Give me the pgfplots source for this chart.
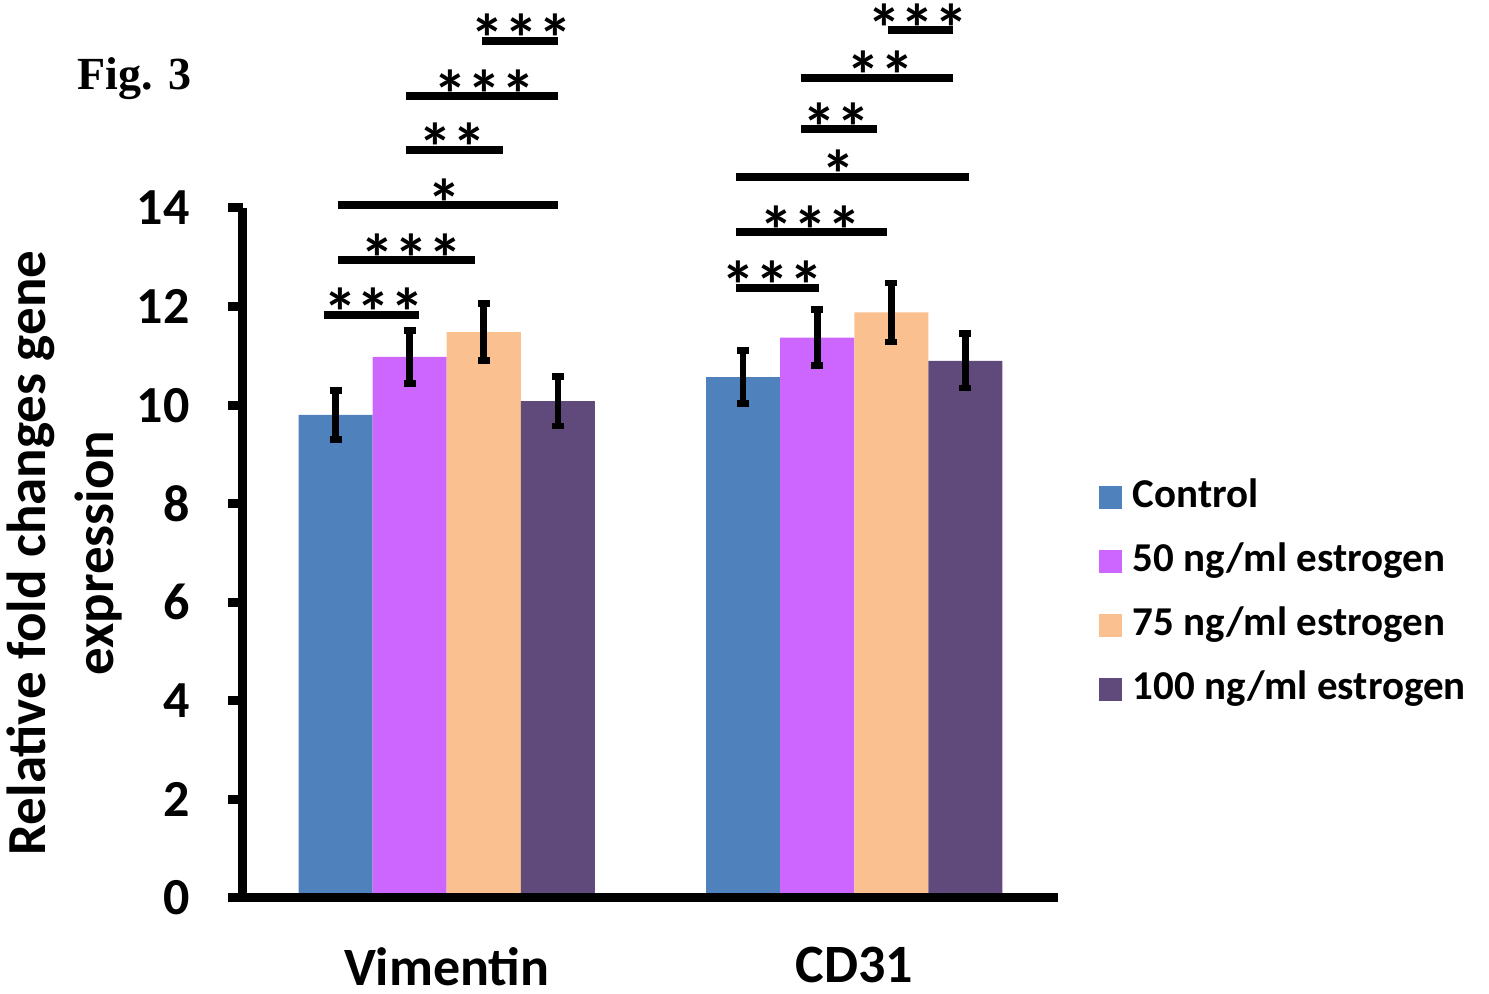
\documentclass[border=0pt]{standalone}
\usepackage{pgfplots}
\pgfplotsset{compat=1.18}
\usepackage{fontspec}
\setmainfont{Carlito}
\newfontfamily\figfont{Liberation Serif}
\definecolor{cctrl}{RGB}{79,129,189}
\definecolor{cfifty}{RGB}{204,102,255}
\definecolor{cseventy}{RGB}{250,192,143}
\definecolor{chundred}{RGB}{96,74,123}
\newcommand{\sig}[5]{%
  \draw[line width=4pt, black] (axis cs:#1,#3) -- (axis cs:#2,#3);
  \node[anchor=base, inner sep=0pt, yshift=-11pt, font=\fontsize{34}{34}\selectfont\bfseries] at (axis cs:#4,#3) {#5};}
\begin{document}
\begin{tikzpicture}
\begin{axis}[
  scale only axis, width=407.5pt, height=345pt,
  xmin=-0.5, xmax=1.5, ymin=0, ymax=14,
  clip=false, axis on top,
  axis x line*=bottom, axis y line*=left,
  axis line style={line width=4.5pt, black},
  ytick={0,2,...,14},
  xtick={0,1}, xticklabels={Vimentin,CD31},
  tick align=outside, major tick length=7.5pt,
  ytick style={line width=4.5pt, black},
  xtick style={draw=none},
  /pgf/number format/assume math mode=true,
  yticklabel style={font=\fontsize{26}{26}\selectfont\bfseries, anchor=east, inner sep=0pt, xshift=-19pt},
  xticklabel style={font=\fontsize{27}{27}\selectfont\bfseries, anchor=north, inner sep=0pt, yshift=-17pt},
  ylabel={Relative fold changes gene\\expression},
  ylabel style={font=\fontsize{27.5}{34}\selectfont\bfseries, align=center, at={(axis description cs:-0.1472,0.5)}, anchor=south, inner sep=0pt},
  ybar, bar width=0.1818,
  error bars/y dir=both, error bars/y explicit,
  error bars/error bar style={line width=3.3pt, black},
  error bars/error mark options={line width=3.3pt, black, mark size=3pt, rotate=90},
  legend style={draw=none, fill=none, at={(1.050,0.607)}, anchor=north west, inner sep=0pt, outer sep=0pt, row sep=13.5pt, column sep=5.5pt, font=\fontsize{20.5}{20.5}\selectfont\bfseries, nodes={inner sep=0pt, text height=14pt, text depth=4.5pt}},
  legend cell align=left,
  legend image code/.code={\fill[#1] (0pt,-5.75pt) rectangle (11.5pt,5.75pt);},
]
\addplot[fill=cctrl, draw=none, bar shift=-0.2727] coordinates {(0,9.8) +- (0,0.5) (1,10.57) +- (0,0.54)};
\addlegendentry{Control}
\addplot[fill=cfifty, draw=none, bar shift=-0.0909] coordinates {(0,10.98) +- (0,0.54) (1,11.37) +- (0,0.57)};
\addlegendentry{50 ng/ml estrogen}
\addplot[fill=cseventy, draw=none, bar shift=0.0909] coordinates {(0,11.48) +- (0,0.58) (1,11.88) +- (0,0.6)};
\addlegendentry{75 ng/ml estrogen}
\addplot[fill=chundred, draw=none, bar shift=0.2727] coordinates {(0,10.08) +- (0,0.5) (1,10.9) +- (0,0.55)};
\addlegendentry{100 ng/ml estrogen}
\sig{-0.302}{-0.069}{11.83}{-0.179}{***}
\sig{-0.267}{0.069}{12.94}{-0.086}{***}
\sig{-0.267}{0.272}{14.06}{-0.005}{*}
\sig{-0.101}{0.137}{15.18}{0.015}{**}
\sig{-0.101}{0.272}{16.27}{0.093}{***}
\sig{0.086}{0.272}{17.39}{0.184}{***}
\sig{0.709}{0.913}{12.38}{0.800}{***}
\sig{0.709}{1.080}{13.51}{0.893}{***}
\sig{0.709}{1.281}{14.63}{0.960}{*}
\sig{0.869}{1.055}{15.60}{0.957}{**}
\sig{0.869}{1.242}{16.64}{1.065}{**}
\sig{1.082}{1.242}{17.61}{1.156}{***}
\node[anchor=base west, inner sep=0pt, font=\figfont\fontsize{23}{23}\selectfont\bfseries] at (axis description cs:-0.2037,1.171) {Fig. 3};
\end{axis}
\pgfresetboundingbox
\path (-121.5pt,-48pt) rectangle (623pt,449pt);
\end{tikzpicture}
\end{document}
